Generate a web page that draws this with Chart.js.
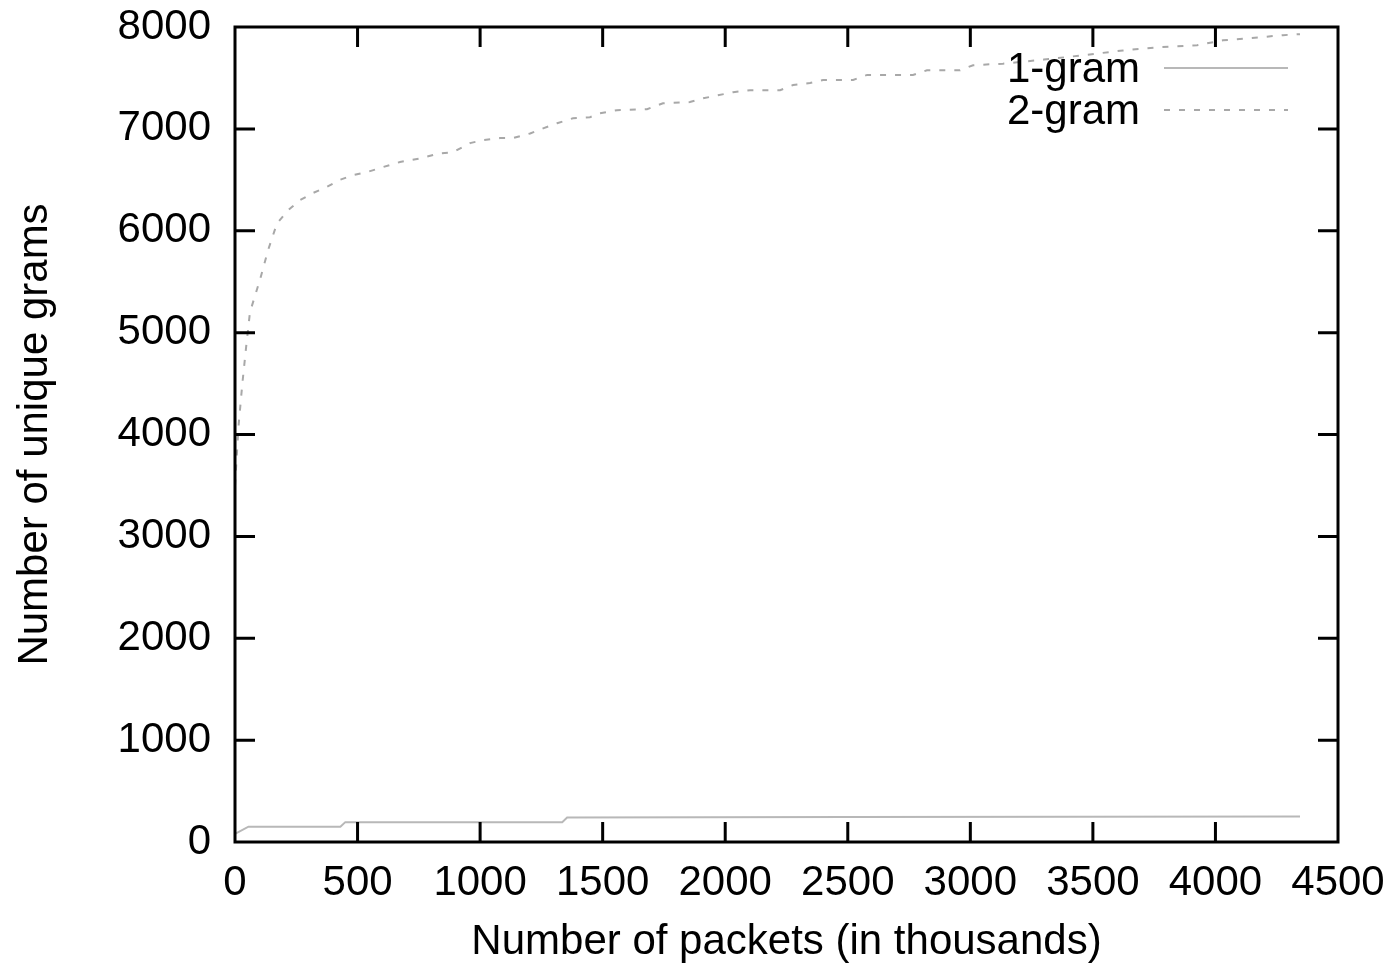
<!DOCTYPE html>
<html>
<head>
<meta charset="utf-8">
<script src="https://cdn.jsdelivr.net/npm/chart.js@4/dist/chart.umd.min.js"></script>
<style>
  html, body { margin: 0; padding: 0; background: #fff; }
  #wrap { width: 1395px; height: 968px; }
</style>
</head>
<body>
<div id="wrap"><canvas id="c" width="1395" height="968"></canvas></div>
<script>
// Packets seen (thousands) vs. number of distinct n-grams observed
const seriesLabels = ['1-gram', '2-gram'];

const gram1Packets = [0, 55, 430, 450, 1335, 1355, 2500, 4345];
const gram1Unique  = [80, 150, 150, 195, 195, 240, 245, 250];

const gram2Packets = [0, 15, 30, 45, 61, 102, 135, 171, 216, 265, 318, 375, 428, 481, 538, 604, 673,
  755, 836, 889, 959, 1012, 1081, 1134, 1204, 1257, 1314, 1379, 1448, 1489, 1558, 1681, 1746,
  1856, 1910, 2032, 2101, 2224, 2277, 2346, 2399, 2522, 2579, 2766, 2823, 2958, 3011, 3133,
  3300, 3450, 3623, 3762, 3925, 4031, 4141, 4276, 4345];
const gram2Unique = [3500, 4100, 4500, 4850, 5200, 5520, 5810, 6070, 6200, 6300, 6370, 6430, 6500, 6545, 6575, 6625, 6675,
  6710, 6760, 6770, 6860, 6890, 6910, 6910, 6955, 7005, 7055, 7105, 7115, 7154, 7183, 7193, 7252,
  7263, 7300, 7360, 7380, 7380, 7430, 7450, 7480, 7480, 7530, 7530, 7575, 7575, 7625, 7640,
  7680, 7720, 7770, 7800, 7820, 7870, 7890, 7920, 7930];

const xTickValues = [0, 500, 1000, 1500, 2000, 2500, 3000, 3500, 4000, 4500];
const yTickValues = [0, 1000, 2000, 3000, 4000, 5000, 6000, 7000, 8000];

const FONT = "'Liberation Sans', Arial, Helvetica, sans-serif";
const pairs = (xs, ys) => xs.map((x, i) => ({ x, y: ys[i] }));

// Frame, inward ticks on all four sides and a gnuplot-style key
const framePlugin = {
  id: 'frame',
  afterDraw(chart) {
    const { ctx, chartArea: a, scales } = chart;
    const tick = 20;
    ctx.save();
    ctx.strokeStyle = '#000';
    ctx.lineWidth = 3;
    ctx.lineCap = 'butt';
    ctx.beginPath();
    xTickValues.forEach(v => {
      const px = scales.x.getPixelForValue(v);
      if (v === xTickValues[0] || v === xTickValues[xTickValues.length - 1]) return;
      ctx.moveTo(px, a.bottom); ctx.lineTo(px, a.bottom - tick);
      ctx.moveTo(px, a.top);    ctx.lineTo(px, a.top + tick);
    });
    yTickValues.forEach(v => {
      const py = scales.y.getPixelForValue(v);
      if (v === yTickValues[0] || v === yTickValues[yTickValues.length - 1]) return;
      ctx.moveTo(a.left, py);  ctx.lineTo(a.left + tick, py);
      ctx.moveTo(a.right, py); ctx.lineTo(a.right - tick, py);
    });
    ctx.stroke();
    ctx.strokeRect(a.left, a.top, a.right - a.left, a.bottom - a.top);

    // key
    const rows = [68, 110];
    ctx.font = '42px ' + FONT;
    ctx.fillStyle = '#000';
    ctx.textAlign = 'right';
    ctx.textBaseline = 'middle';
    chart.data.datasets.forEach((ds, i) => {
      const y = rows[i];
      ctx.fillText(ds.label, 1140, y + 2);
      ctx.strokeStyle = ds.borderColor;
      ctx.lineWidth = ds.borderWidth;
      ctx.setLineDash(ds.borderDash || []);
      ctx.beginPath();
      ctx.moveTo(1164, y);
      ctx.lineTo(1288, y);
      ctx.stroke();
      ctx.setLineDash([]);
    });
    ctx.restore();
  }
};

new Chart(document.getElementById('c'), {
  type: 'scatter',
  data: {
    datasets: [
      {
        label: seriesLabels[0],
        data: pairs(gram1Packets, gram1Unique),
        showLine: true,
        borderColor: '#b8b8b8',
        borderWidth: 2,
        pointRadius: 0,
        tension: 0
      },
      {
        label: seriesLabels[1],
        data: pairs(gram2Packets, gram2Unique),
        showLine: true,
        borderColor: '#a8a8a8',
        borderWidth: 2,
        borderDash: [6, 9],
        pointRadius: 0,
        tension: 0
      }
    ]
  },
  options: {
    responsive: false,
    animation: false,
    layout: { padding: { top: 27, right: 57, left: 0, bottom: 0 } },
    plugins: {
      legend: { display: false },
      tooltip: { enabled: false }
    },
    scales: {
      x: {
        type: 'linear',
        min: 0,
        max: 4500,
        afterBuildTicks: s => { s.ticks = xTickValues.map(v => ({ value: v })); },
        ticks: {
          padding: 16,
          color: '#000',
          maxRotation: 0,
          autoSkip: false,
          font: { family: FONT, size: 42 },
          callback: v => String(v)
        },
        grid: { display: false, drawTicks: false },
        border: { display: false },
        title: {
          display: true,
          text: 'Number of packets (in thousands)',
          color: '#000',
          font: { family: FONT, size: 42 },
          padding: { top: 0, bottom: 0 }
        },
        afterFit: s => { s.height = 126; s.paddingLeft = 0; s.paddingRight = 0; }
      },
      y: {
        type: 'linear',
        min: 0,
        max: 8000,
        afterBuildTicks: s => { s.ticks = yTickValues.map(v => ({ value: v })); },
        ticks: {
          padding: 24,
          color: '#000',
          autoSkip: false,
          font: { family: FONT, size: 42 },
          callback: v => String(v)
        },
        grid: { display: false, drawTicks: false },
        border: { display: false },
        title: {
          display: true,
          text: 'Number of unique grams',
          color: '#000',
          font: { family: FONT, size: 42 },
          padding: { top: 10, bottom: 0 }
        },
        afterFit: s => { s.width = 235; s.paddingTop = 0; s.paddingBottom = 0; }
      }
    }
  },
  plugins: [framePlugin]
});
</script>
</body>
</html>
